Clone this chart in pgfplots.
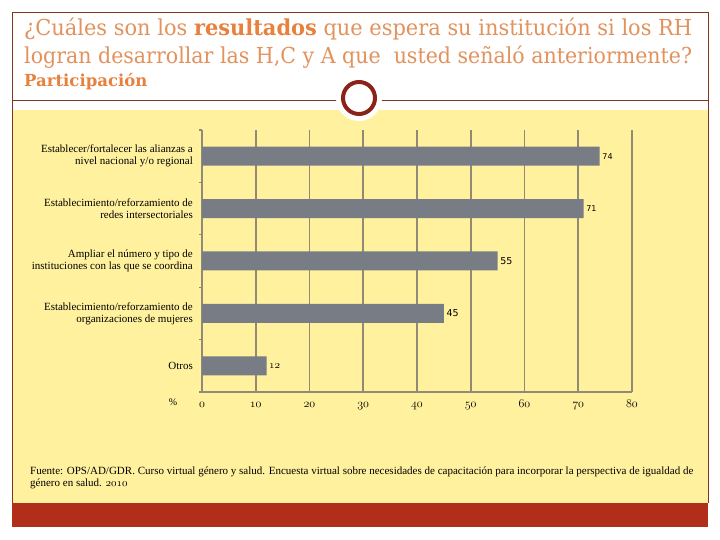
\documentclass[border=0pt]{standalone}
\usepackage{graphicx}
\usepackage{pgfplots}
\pgfplotsset{compat=1.18}
\usepackage{fontspec}
\setmainfont{Liberation Serif}
\newfontfamily\titlefont{DejaVu Serif}
\newfontfamily\sansfont{DejaVu Sans}
\definecolor{ybg}{RGB}{255,241,158}
\definecolor{redband}{RGB}{176,46,26}
\definecolor{framecol}{RGB}{125,55,35}
\definecolor{circcol}{RGB}{140,35,25}
\definecolor{titlecol}{RGB}{226,146,92}
\definecolor{boldcol}{RGB}{232,128,62}
\definecolor{gridcol}{RGB}{145,138,118}
\definecolor{barcol}{RGB}{120,124,132}
\newcommand{\osf}[1]{\mbox{\usefont{OML}{cmm}{m}{it}#1}}
\begin{document}
\begin{tikzpicture}[x=1pt,y=1pt]
\fill[white] (0pt,0pt) rectangle (720pt,540pt);
\fill[ybg] (12pt,37pt) rectangle (708pt,430pt);
\fill[redband] (12pt,13pt) rectangle (708pt,37pt);
\draw[framecol, line width=1pt] (12pt,37pt) -- (12pt,527.5pt) -- (708pt,527.5pt) -- (708pt,37pt);
\draw[framecol, line width=0.8pt] (12pt,440pt) -- (708pt,440pt);
\fill[white] (359pt,442pt) circle (23pt);
\draw[circcol, line width=4pt] (359pt,442pt) circle (16pt);
\node[anchor=base west, inner sep=0, text=titlecol, font=\titlefont\fontsize{22}{27}\selectfont] at (24pt,504pt) {\resizebox{668pt}{\height}{¿Cuáles son los \textcolor{boldcol}{\textbf{resultados}} que espera su institución si los RH}};
\node[anchor=base west, inner sep=0, text=titlecol, font=\titlefont\fontsize{22}{27}\selectfont] at (24pt,476pt) {\resizebox{668pt}{\height}{logran desarrollar las H,C y A que \ usted señaló anteriormente?}};
\node[anchor=base west, inner sep=0, text=boldcol, font=\titlefont\bfseries\fontsize{16.5}{18}\selectfont] at (24pt,453pt) {Participación};
\begin{axis}[
  at={(202pt,148pt)}, anchor=south west,
  scale only axis, width=430pt, height=262pt,
  xmin=0, xmax=80, ymin=0.5, ymax=5.5,
  xbar, bar width=19pt,
  axis x line*=bottom, axis y line*=left,
  axis line style={draw=gridcol, line width=1.6pt, -},
  xtick={0,10,...,80},
  xticklabels={\osf{0},\osf{10},\osf{20},\osf{30},\osf{40},\osf{50},\osf{60},\osf{70},\osf{80}},
  xticklabel style={anchor=base, yshift=-16pt, font=\fontsize{12}{14}\selectfont},
  xmajorgrids, grid style={draw=gridcol, line width=1.6pt},
  ytick={1,2,3,4,5},
  yticklabels={{Otros},{Establecimiento/reforzamiento de\\organizaciones de mujeres},{Ampliar el número y tipo de\\instituciones con las que se coordina},{Establecimiento/reforzamiento de\\redes intersectoriales},{Establecer/fortalecer las alianzas a\\nivel nacional y/o regional}},
  yticklabel style={align=right, font=\fontsize{11}{12}\selectfont, inner sep=0pt, xshift=-9pt},
  major tick length=0pt,
  minor ytick={0.5,1.5,2.5,3.5,4.5,5.5},
  minor tick length=3pt, tick align=outside,
  tick style={draw=gridcol, line width=1.2pt},
  point meta=explicit symbolic,
  nodes near coords,
  nodes near coords style={anchor=west, inner sep=2.5pt, text=black},
]
\addplot[fill=barcol, draw=none] coordinates {
  (12,1) [{\fontsize{11}{12}\selectfont\osf{12}}]
  (45,2) [{\sansfont\fontsize{9.5}{10}\selectfont 45}]
  (55,3) [{\sansfont\fontsize{9.5}{10}\selectfont 55}]
  (71,4) [{\sansfont\fontsize{8}{9}\selectfont 71}]
  (74,5) [{\sansfont\fontsize{8}{9}\selectfont 74}]
};
\end{axis}
\node[font=\fontsize{10}{12}\selectfont] at (173pt,138pt) {\%};
\node[anchor=base west, inner sep=0, font=\fontsize{11}{12}\selectfont] at (30pt,65pt) {Fuente: OPS/AD/GDR. Curso virtual género y salud. Encuesta virtual sobre necesidades de capacitación para incorporar la perspectiva de igualdad de};
\node[anchor=base west, inner sep=0, font=\fontsize{11}{12}\selectfont] at (30pt,53pt) {género en salud. \osf{2010}};
\end{tikzpicture}
\end{document}
